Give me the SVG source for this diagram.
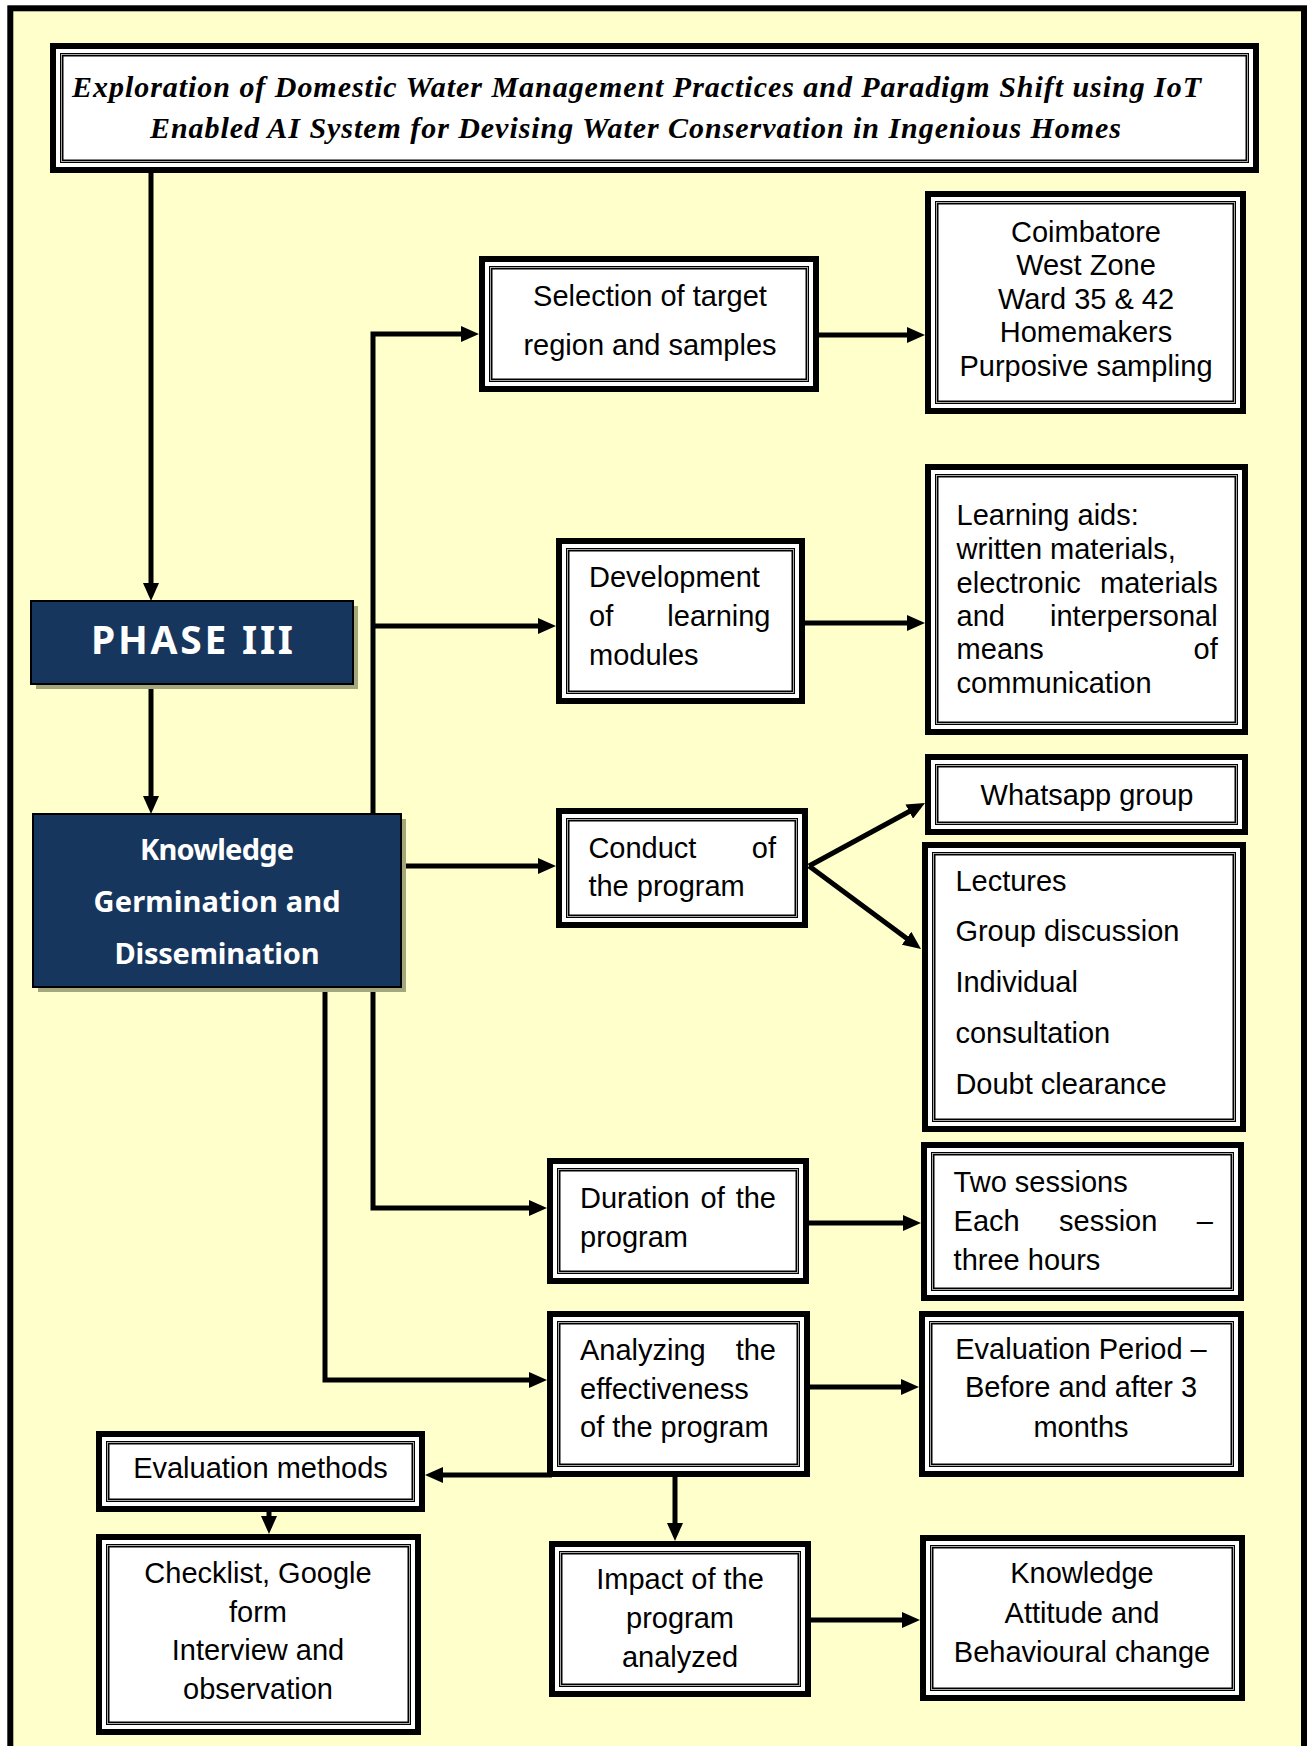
<svg xmlns="http://www.w3.org/2000/svg" width="1311" height="1746" viewBox="0 0 1311 1746">
<defs>
<marker id="ah" markerUnits="userSpaceOnUse" markerWidth="18" markerHeight="16" refX="10" refY="8" orient="auto">
<path d="M0,0 L18,8 L0,16 z" fill="#000"/>
</marker>
</defs>
<style>
.o{fill:#fff;stroke:#000;stroke-width:6}
.i1{fill:none;stroke:#000;stroke-width:3.5}
.i2{fill:none;stroke:#bbb;stroke-width:0.9}
.t{font-family:"Liberation Sans",Arial,sans-serif;font-size:29px;fill:#000}
.c{text-anchor:middle}
.e{text-anchor:end}
.dk{fill:#17365D;stroke:#000;stroke-width:2}
.sh{fill:#A4A67B}
.w{font-family:"Noto Sans","DejaVu Sans",sans-serif;font-weight:bold;fill:#fff;text-anchor:middle}
.ttl{font-family:"Liberation Serif","Times New Roman",serif;font-weight:bold;font-style:italic;font-size:30px;fill:#000}
.cn{fill:none;stroke:#000;stroke-width:5;marker-end:url(#ah)}
</style>
<rect width="1311" height="1746" fill="#fff"/>
<rect x="10.3" y="8.3" width="1293.7" height="1780" fill="#FFFFCC" stroke="#000" stroke-width="6"/>

<g id="connectors">
<path class="cn" d="M151,173 V593"/>
<path class="cn" d="M151,684 V806"/>
<path class="cn" d="M373,814 V334 H471"/>
<path class="cn" d="M373,626 H548"/>
<path class="cn" d="M401,866 H548"/>
<path class="cn" d="M809,866 L918,806.8"/>
<path class="cn" d="M809,866 L914.6,944.2"/>
<path class="cn" d="M373,987 V1208 H539"/>
<path class="cn" d="M325,987 V1380 H539"/>
<path class="cn" d="M819,335 H917"/>
<path class="cn" d="M805,623 H917"/>
<path class="cn" d="M809,1223 H913"/>
<path class="cn" d="M810,1387 H911"/>
<path class="cn" d="M552,1475 H433"/>
<path class="cn" d="M269,1512 V1526"/>
<path class="cn" d="M675,1477 V1533"/>
<path class="cn" d="M811,1620 H912"/>
</g>

<g id="title">
<rect class="o" x="53" y="46" width="1203" height="124"/>
<rect class="i1" x="61.75" y="54.75" width="1185.5" height="106.5"/>
<rect class="i2" x="61.5" y="54.5" width="1186" height="107"/>
<text class="ttl" x="72" y="97" textLength="1129">Exploration of Domestic Water Management Practices and Paradigm Shift using IoT</text>
<text class="ttl" x="150" y="138" textLength="971">Enabled AI System for Devising Water Conservation in Ingenious Homes</text>
</g>

<g id="phase3">
<rect class="sh" x="36" y="606" width="322" height="83"/>
<rect class="dk" x="31" y="601" width="322" height="83"/>
<text class="w" x="192" y="654" font-size="39" textLength="202">PHASE III</text>
</g>

<g id="knowledge-germination">
<rect class="sh" x="38" y="819" width="368" height="173"/>
<rect class="dk" x="33" y="814" width="368" height="173"/>
<text class="w" font-size="29"><tspan x="217" y="860" textLength="154">Knowledge</tspan><tspan x="217" y="912" textLength="247">Germination and</tspan><tspan x="217" y="964" textLength="205">Dissemination</tspan></text>
</g>

<g id="selection">
<rect class="o" x="482" y="259" width="334" height="130"/>
<rect class="i1" x="490.75" y="267.75" width="316.5" height="112.5"/>
<rect class="i2" x="490.5" y="267.5" width="317" height="113"/>
<text class="t c"><tspan x="650" y="306">Selection of target</tspan><tspan x="650" y="355">region and samples</tspan></text>
</g>

<g id="coimbatore">
<rect class="o" x="928" y="194" width="315" height="217"/>
<rect class="i1" x="936.75" y="202.75" width="297.5" height="199.5"/>
<rect class="i2" x="936.5" y="202.5" width="298" height="200"/>
<text class="t c"><tspan x="1086" y="241.5">Coimbatore</tspan><tspan x="1086" y="275">West Zone</tspan><tspan x="1086" y="308.5">Ward 35 &amp; 42</tspan><tspan x="1086" y="342">Homemakers</tspan><tspan x="1086" y="375.5">Purposive sampling</tspan></text>
</g>

<g id="development">
<rect class="o" x="559" y="541" width="243" height="160"/>
<rect class="i1" x="567.75" y="549.75" width="225.5" height="142.5"/>
<rect class="i2" x="567.5" y="549.5" width="226" height="143"/>
<text class="t"><tspan x="589" y="587">Development</tspan><tspan x="589" y="626">of</tspan><tspan x="770.5" y="626" text-anchor="end">learning</tspan><tspan x="589" y="665">modules</tspan></text>
</g>

<g id="learning-aids">
<rect class="o" x="928" y="467" width="317" height="265"/>
<rect class="i1" x="936.75" y="475.75" width="299.5" height="247.5"/>
<rect class="i2" x="936.5" y="475.5" width="300" height="248"/>
<text class="t"><tspan x="956.6" y="524.6">Learning aids:</tspan><tspan x="956.6" y="558.6">written materials,</tspan><tspan x="956.6" y="592.5">electronic</tspan><tspan x="1217.7" y="592.5" text-anchor="end">materials</tspan><tspan x="956.6" y="626">and</tspan><tspan x="1217.7" y="626" text-anchor="end">interpersonal</tspan><tspan x="956.6" y="659">means</tspan><tspan x="1217.7" y="659" text-anchor="end">of</tspan><tspan x="956.6" y="692.5">communication</tspan></text>
</g>

<g id="whatsapp">
<rect class="o" x="928" y="757" width="317" height="75"/>
<rect class="i1" x="936.75" y="765.75" width="299.5" height="57.5"/>
<rect class="i2" x="936.5" y="765.5" width="300" height="58"/>
<text class="t c" x="1087" y="805">Whatsapp group</text>
</g>

<g id="lectures">
<rect class="o" x="925" y="845" width="318" height="284"/>
<rect class="i1" x="933.75" y="853.75" width="300.5" height="266.5"/>
<rect class="i2" x="933.5" y="853.5" width="301" height="267"/>
<text class="t"><tspan x="955.4" y="891.4">Lectures</tspan><tspan x="955.4" y="941.4">Group discussion</tspan><tspan x="955.4" y="992">Individual</tspan><tspan x="955.4" y="1043">consultation</tspan><tspan x="955.4" y="1094">Doubt clearance</tspan></text>
</g>

<g id="conduct">
<rect class="o" x="559" y="811" width="246" height="114"/>
<rect class="i1" x="567.75" y="819.75" width="228.5" height="96.5"/>
<rect class="i2" x="567.5" y="819.5" width="229" height="97"/>
<text class="t"><tspan x="588.4" y="858">Conduct</tspan><tspan x="776" y="858" text-anchor="end">of</tspan><tspan x="588.4" y="896">the program</tspan></text>
</g>

<g id="duration">
<rect class="o" x="550" y="1161" width="256" height="120"/>
<rect class="i1" x="558.75" y="1169.75" width="238.5" height="102.5"/>
<rect class="i2" x="558.5" y="1169.5" width="239" height="103"/>
<text class="t"><tspan x="580" y="1208">Duration</tspan><tspan x="700.6" y="1208">of</tspan><tspan x="776" y="1208" text-anchor="end">the</tspan><tspan x="580" y="1247">program</tspan></text>
</g>

<g id="two-sessions">
<rect class="o" x="924" y="1145" width="317" height="153"/>
<rect class="i1" x="932.75" y="1153.75" width="299.5" height="135.5"/>
<rect class="i2" x="932.5" y="1153.5" width="300" height="136"/>
<text class="t"><tspan x="953.6" y="1191.5">Two sessions</tspan><tspan x="953.6" y="1231">Each</tspan><tspan x="1059" y="1231">session</tspan><tspan x="1213" y="1231" text-anchor="end">–</tspan><tspan x="953.6" y="1269.5">three hours</tspan></text>
</g>

<g id="analyzing">
<rect class="o" x="550" y="1314" width="257" height="160"/>
<rect class="i1" x="558.75" y="1322.75" width="239.5" height="142.5"/>
<rect class="i2" x="558.5" y="1322.5" width="240" height="143"/>
<text class="t"><tspan x="580" y="1360">Analyzing</tspan><tspan x="776" y="1360" text-anchor="end">the</tspan><tspan x="580" y="1398.5">effectiveness</tspan><tspan x="580" y="1437">of the program</tspan></text>
</g>

<g id="evaluation-period">
<rect class="o" x="922" y="1314" width="319" height="160"/>
<rect class="i1" x="930.75" y="1322.75" width="301.5" height="142.5"/>
<rect class="i2" x="930.5" y="1322.5" width="302" height="143"/>
<text class="t c"><tspan x="1081" y="1359">Evaluation Period –</tspan><tspan x="1081" y="1397">Before and after 3</tspan><tspan x="1081" y="1437">months</tspan></text>
</g>

<g id="evaluation-methods">
<rect class="o" x="99" y="1434" width="323" height="75"/>
<rect class="i1" x="107.75" y="1442.75" width="305.5" height="57.5"/>
<rect class="i2" x="107.5" y="1442.5" width="306" height="58"/>
<text class="t c" x="260.5" y="1478">Evaluation methods</text>
</g>

<g id="checklist">
<rect class="o" x="99" y="1537" width="319" height="195"/>
<rect class="i1" x="107.75" y="1545.75" width="301.5" height="177.5"/>
<rect class="i2" x="107.5" y="1545.5" width="302" height="178"/>
<text class="t c"><tspan x="258" y="1583">Checklist, Google</tspan><tspan x="258" y="1622">form</tspan><tspan x="258" y="1660">Interview and</tspan><tspan x="258" y="1699">observation</tspan></text>
</g>

<g id="impact">
<rect class="o" x="552" y="1544" width="256" height="150"/>
<rect class="i1" x="560.75" y="1552.75" width="238.5" height="132.5"/>
<rect class="i2" x="560.5" y="1552.5" width="239" height="133"/>
<text class="t c"><tspan x="680" y="1589">Impact of the</tspan><tspan x="680" y="1628">program</tspan><tspan x="680" y="1667">analyzed</tspan></text>
</g>

<g id="kab-change">
<rect class="o" x="923" y="1538" width="319" height="160"/>
<rect class="i1" x="931.75" y="1546.75" width="301.5" height="142.5"/>
<rect class="i2" x="931.5" y="1546.5" width="302" height="143"/>
<text class="t c"><tspan x="1082" y="1583">Knowledge</tspan><tspan x="1082" y="1622.5">Attitude and</tspan><tspan x="1082" y="1661.5">Behavioural change</tspan></text>
</g>
</svg>
